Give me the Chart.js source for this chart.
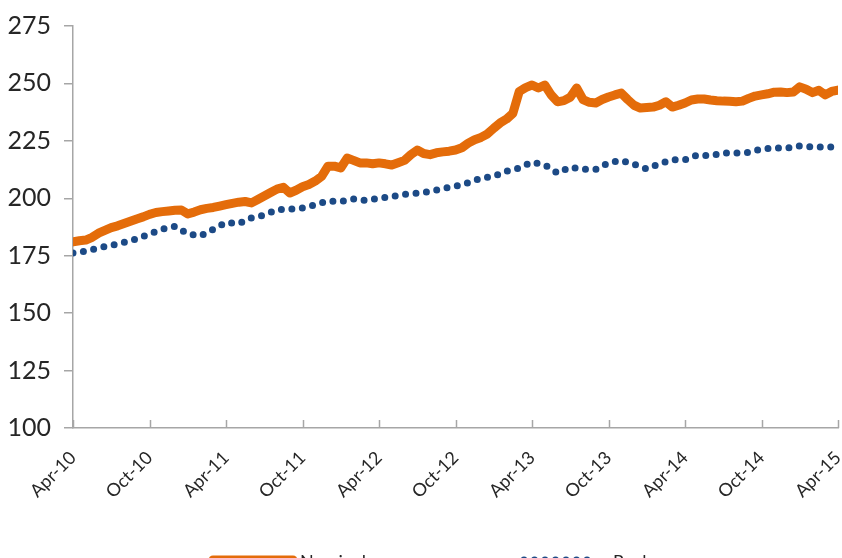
<!DOCTYPE html>
<html>
<head>
<meta charset="utf-8">
<script src="https://cdn.jsdelivr.net/npm/chart.js@4.4.1/dist/chart.umd.min.js"></script>
<style>
  html, body { margin: 0; padding: 0; background: #ffffff; overflow: hidden; }
  #wrap { width: 842px; height: 558px; overflow: hidden; position: relative; }
  canvas { display: block; }
</style>
</head>
<body>
<div id="wrap"><canvas id="c" width="842" height="575"></canvas></div>
<script>
// ---- Data ----
const tickLabels = ["Apr-10","Oct-10","Apr-11","Oct-11","Apr-12","Oct-12","Apr-13","Oct-13","Apr-14","Oct-14","Apr-15"];
const yTicks = [100, 125, 150, 175, 200, 225, 250, 275];
const seriesNames = ["Nominal", "Real"];

// orange series: one value per half month, Apr-10 .. Apr-15
const orangeValues = [
  181.0,181.5,181.8,183.0,184.8,186.0,187.2,188.0,189.0,190.0,
  191.0,191.9,193.0,193.8,194.2,194.5,194.8,194.9,193.2,194.0,
  195.0,195.6,196.0,196.6,197.2,197.8,198.3,198.6,198.0,199.5,
  201.0,202.5,204.0,204.8,202.3,203.5,205.0,206.0,207.5,209.5,
  214.0,214.0,213.2,217.5,216.5,215.4,215.4,215.0,215.4,215.0,
  214.5,215.5,216.5,219.0,221.0,219.5,219.0,219.8,220.2,220.5,
  221.0,222.0,224.0,225.5,226.5,228.0,230.5,232.8,234.5,237.0,
  246.5,248.2,249.3,248.0,249.3,245.0,242.0,242.5,244.0,248.0,
  243.0,241.8,241.5,243.0,244.1,245.0,245.8,243.0,240.5,239.3,
  239.5,239.7,240.5,242.0,239.7,240.5,241.5,242.8,243.2,243.2,
  242.8,242.5,242.3,242.2,242.0,242.3,243.5,244.5,245.0,245.5,
  246.2,246.3,246.0,246.3,248.5,247.5,246.0,247.0,245.0,246.5,
  247.1
];
// blue series: one value per month, Apr-10 .. Apr-15
const blueValues = [
  176.2,177.0,178.4,179.5,180.8,182.3,184.5,186.6,187.8,184.5,
  183.6,186.5,189.5,188.9,191.5,192.7,195.0,195.3,195.8,197.2,
  198.8,198.6,199.7,199.0,200.0,200.8,201.7,202.2,203.0,204.2,
  205.2,206.8,208.8,209.5,211.8,213.2,215.8,214.5,211.0,213.6,
  212.6,212.6,215.4,216.5,214.8,212.8,215.0,216.8,216.8,218.9,
  218.5,219.7,219.7,220.0,221.5,221.9,221.9,222.8,222.3,222.3,
  222.3
];

const ORANGE = "#E46C0A";
const BLUE = "#1C4A86";
const AXIS = "#A6A6A6";
const FONT = "Lato, 'Open Sans', 'Liberation Sans', sans-serif";

const orangePts = orangeValues.map((v, i) => ({ x: i / 2, y: v }));
const bluePts = blueValues.map((v, i) => ({ x: i, y: v }));

// upward tick marks on the x axis
const innerTicks = {
  id: 'innerTicks',
  afterDraw(chart) {
    const xs = chart.scales.x, ctx = chart.ctx;
    const yb = chart.chartArea.bottom;
    ctx.save();
    ctx.strokeStyle = AXIS;
    ctx.lineWidth = 1.5;
    tickLabels.forEach((_, i) => {
      const px = Math.round(xs.getPixelForValue(i * 6)) + 0.5;
      ctx.beginPath();
      ctx.moveTo(px, yb);
      ctx.lineTo(px, yb - 8);
      ctx.stroke();
    });
    ctx.restore();
  }
};

// legend drawn at the bottom (partly cut off, as in the reference)
const bottomLegend = {
  id: 'bottomLegend',
  afterDraw(chart) {
    const ctx = chart.ctx;
    const items = [{ x0: 213, x1: 293, tx: 300 }, { x0: 524, x1: 596, tx: 613 }];
    const y = 560;
    ctx.save();
    chart.data.datasets.forEach((ds, i) => {
      const it = items[i];
      ctx.strokeStyle = ds.borderColor;
      ctx.lineWidth = ds.borderWidth;
      ctx.lineCap = ds.borderCapStyle || 'butt';
      ctx.setLineDash(ds.borderDash || []);
      ctx.beginPath();
      ctx.moveTo(it.x0, y);
      ctx.lineTo(it.x1, y);
      ctx.stroke();
      ctx.setLineDash([]);
      ctx.fillStyle = '#262626';
      ctx.font = '18px ' + FONT;
      ctx.textBaseline = 'top';
      ctx.fillText(ds.label, it.tx, 553);
    });
    ctx.restore();
  }
};

new Chart(document.getElementById('c'), {
  type: 'line',
  data: {
    datasets: [
      {
        label: seriesNames[0],
        data: orangePts,
        borderColor: ORANGE,
        backgroundColor: ORANGE,
        borderWidth: 9,
        borderJoinStyle: 'round',
        borderCapStyle: 'round',
        pointRadius: 0,
        tension: 0
      },
      {
        label: seriesNames[1],
        data: bluePts,
        borderColor: BLUE,
        backgroundColor: BLUE,
        borderWidth: 7,
        borderDash: [0, 10.5],
        borderCapStyle: 'round',
        pointRadius: 0,
        tension: 0
      }
    ]
  },
  options: {
    responsive: false,
    animation: false,
    events: [],
    layout: { padding: { top: 26, right: 4, left: 0, bottom: 0 } },
    plugins: { legend: { display: false }, tooltip: { enabled: false } },
    scales: {
      x: {
        type: 'linear',
        min: 0,
        max: 60,
        afterBuildTicks: (s) => { s.ticks = tickLabels.map((_, i) => ({ value: i * 6 })); },
        afterFit: (s) => { s.height = 575 - 428; s.paddingLeft = 0; s.paddingRight = 0; },
        border: { display: true, color: AXIS, width: 1.5 },
        grid: { drawOnChartArea: false, drawTicks: false },
        ticks: {
          autoSkip: false,
          minRotation: 45,
          maxRotation: 45,
          padding: 19,
          color: '#262626',
          font: { family: FONT, size: 18 },
          callback: (v) => tickLabels[Math.round(v / 6)]
        }
      },
      y: {
        min: 100,
        max: 275,
        afterBuildTicks: (s) => { s.ticks = yTicks.map(v => ({ value: v })); },
        afterFit: (s) => { s.width = 73; s.paddingTop = 0; s.paddingBottom = 0; },
        border: { display: true, color: AXIS, width: 1.5 },
        grid: { drawOnChartArea: false, drawTicks: true, tickLength: 9, color: AXIS, lineWidth: 1.5 },
        ticks: {
          padding: 13,
          color: '#262626',
          font: { family: FONT, size: 25 }
        }
      }
    }
  },
  plugins: [innerTicks, bottomLegend]
});
</script>
</body>
</html>
